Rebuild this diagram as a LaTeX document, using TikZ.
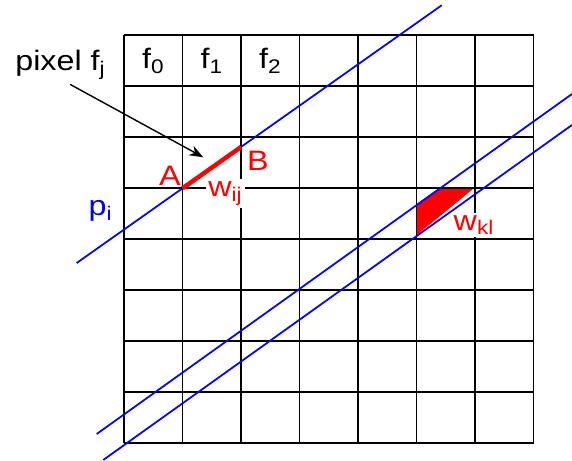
\documentclass[tikz,border=0pt]{standalone}
\usepackage{fontspec}
\setmainfont[FakeStretch=1.147]{Liberation Sans}
\usetikzlibrary{arrows.meta}

\begin{document}
\begin{tikzpicture}[x=1.17cm, y=1.02cm,
    every node/.style={font=\fontsize{16}{19}\selectfont, inner sep=0pt},
    ray/.style={blue, line width=1pt},
    wlabel/.style={red, fill=white, inner sep=1.5pt, anchor=base west}]
  \useasboundingbox (-2.12,-0.347) rectangle (7.658,8.692);
  % part of pixel kl inside the strip
  \fill[red] (5,4.69) -- (5.38,5) -- (5.98,5) -- (5,4.08) -- cycle;
  \draw[line width=1pt, step=1] (0,0) grid (7,8);
  \foreach \i in {0,1,2}
    \node (f\i) at (\i+0.5,7.5) {f\textsubscript{\i}};
  \node[anchor=base west] (pixel) at (-1.863,7.30) {pixel f\textsubscript{j}};
  \node[wlabel] (wij) at (1.39,4.835) {w\textsubscript{ij}};
  \node[wlabel] (wkl) at (5.585,4.18) {w\textsubscript{kl}};
  \node[blue, anchor=base west] (pi) at (-0.61,4.457) {p\textsubscript{i}};
  \node[red, anchor=base east] (lblA) at (0.974,5.045) {A};
  \node[red, anchor=base west] (lblB) at (2.097,5.345) {B};
  \coordinate (A) at (1,5);
  \coordinate (B) at (2,5.81);
  \coordinate (tip) at (1.356,5.608);
  % rays
  \draw[ray] (-0.81,3.534) -- (5.43,8.588);
  \draw[ray] (-0.467,0.182) -- (7.658,6.849);
  \draw[ray] (-0.354,-0.327) -- (7.658,6.241);
  \draw[red, line width=2.5pt] (A) -- (B);
  \draw[-{Stealth[length=8pt,width=6pt]}, line width=0.8pt] ([xshift=5.5pt,yshift=-2.5pt]pixel.south) -- (tip);
\end{tikzpicture}
\end{document}
